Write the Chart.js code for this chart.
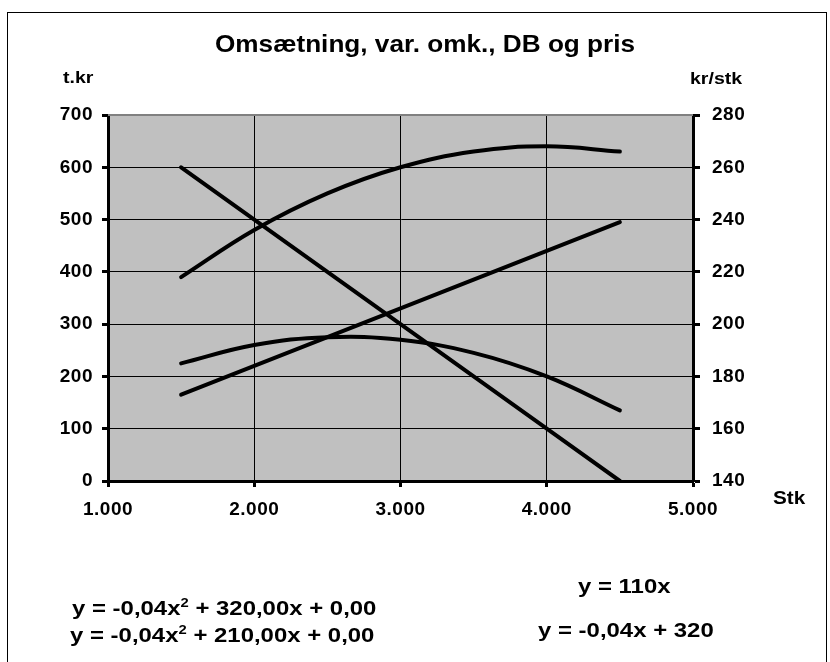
<!DOCTYPE html>
<html>
<head>
<meta charset="utf-8">
<script src="https://cdn.jsdelivr.net/npm/chart.js@4/dist/chart.umd.min.js"></script>
<style>
  html, body { margin: 0; padding: 0; background: #fff; overflow: hidden; }
  #wrap { position: relative; width: 830px; height: 662px; overflow: hidden; font-family: "Liberation Sans", Arial, sans-serif; font-weight: bold; color: #000; }
  #frame { position: absolute; left: 7px; top: 12px; width: 818px; height: 700px; border: 1.5px solid #000; }
  canvas { position: absolute; left: 0; top: 0; }
  .lbl { position: absolute; white-space: nowrap; line-height: 1; transform-origin: 0 0; }
  .title { font-size: 24px; left: 215px; top: 32px; transform: scaleX(1.09); }
  .ax { font-size: 17px; transform: scaleX(1.15); }
  .eq { font-size: 21px; transform: scaleX(1.14); }
  .eq sup { font-size: 13px; vertical-align: 8px; line-height: 0; }
</style>
</head>
<body>
<div id="wrap">
  <div id="frame"></div>
  <canvas id="chart" width="830" height="662"></canvas>
  <div class="lbl title">Omsætning, var. omk., DB og pris</div>
  <div class="lbl ax" style="left:63px; top:69px;">t.kr</div>
  <div class="lbl ax" style="left:690px; top:70px;">kr/stk</div>
  <div class="lbl ax" style="left:773px; top:489px; font-size:18px;">Stk</div>
  <div class="lbl eq" style="left:72px; top:597px;">y = -0,04x<sup>2</sup> + 320,00x + 0,00</div>
  <div class="lbl eq" style="left:70px; top:624px;">y = -0,04x<sup>2</sup> + 210,00x + 0,00</div>
  <div class="lbl eq" style="left:578px; top:575px;">y = 110x</div>
  <div class="lbl eq" style="left:538px; top:619px;">y = -0,04x + 320</div>
</div>
<script>
// styk (x)
var stk = [1500, 2000, 2500, 3000, 3500, 4000, 4500];
// t.kr (venstre akse)
var omsaetning = [390, 480, 550, 600, 630, 640, 630];
var db = [225, 260, 275, 270, 245, 200, 135];
var varOmk = [165, 220, 275, 330, 385, 440, 495];
// kr/stk (hoejre akse)
var pris = [260, 240, 220, 200, 180, 160, 140];

var xTicks = [1000, 2000, 3000, 4000, 5000];
var leftTicks = [0, 100, 200, 300, 400, 500, 600, 700];
var rightTicks = [140, 160, 180, 200, 220, 240, 260, 280];

function pts(ys) {
    return stk.map(function (x, i) { return { x: x, y: ys[i] }; });
}

function tusind(v) {
    return String(v).replace(/\B(?=(\d{3})+(?!\d))/g, '.');
}

var plotBg = {
    id: 'plotBg',
    beforeDraw: function (chart) {
        var a = chart.chartArea, ctx = chart.ctx;
        ctx.save();
        ctx.fillStyle = '#c0c0c0';
        ctx.fillRect(a.left, a.top, a.right - a.left, a.bottom - a.top);
        ctx.restore();
        // lidt bredere tal, som i originalen
        ctx.letterSpacing = '0.5px';
    },
    afterDatasetsDraw: function (chart) {
        var a = chart.chartArea, ctx = chart.ctx;
        ctx.save();
        ctx.strokeStyle = '#808080';
        ctx.lineWidth = 2;
        ctx.beginPath();
        ctx.moveTo(a.left, a.top);
        ctx.lineTo(a.right, a.top);
        ctx.stroke();
        ctx.restore();
    }
};

var line = function (data, axis, tension) {
    return {
        data: pts(data),
        yAxisID: axis,
        borderColor: '#000',
        borderWidth: 4,
        borderCapStyle: 'round',
        pointRadius: 0,
        showLine: true,
        tension: tension,
        fill: false
    };
};

var font = { family: '"Liberation Sans", Arial, sans-serif', size: 19, weight: 'bold' };

new Chart(document.getElementById('chart'), {
    type: 'scatter',
    data: {
        datasets: [
            line(omsaetning, 'y', 0.4),
            line(db, 'y', 0.4),
            line(varOmk, 'y', 0),
            line(pris, 'y1', 0)
        ]
    },
    options: {
        responsive: false,
        animation: false,
        layout: { padding: { top: 115, left: 0, right: 0, bottom: 0 } },
        plugins: { legend: { display: false }, tooltip: { enabled: false }, title: { display: false } },
        scales: {
            x: {
                type: 'linear',
                min: 1000, max: 5000,
                afterBuildTicks: function (s) { s.ticks = xTicks.map(function (v) { return { value: v }; }); },
                afterFit: function (s) { s.height = 181; },
                ticks: { color: '#000', font: font, padding: 11, callback: function (v) { return tusind(v); } },
                grid: { color: '#000', lineWidth: 1, tickLength: 6, tickWidth: 3, tickColor: '#000' },
                border: { color: '#000', width: 3 }
            },
            y: {
                position: 'left',
                min: 0, max: 700,
                afterBuildTicks: function (s) { s.ticks = leftTicks.map(function (v) { return { value: v }; }); },
                afterFit: function (s) { s.width = 108; },
                ticks: { color: '#000', font: font, padding: 9 },
                grid: {
                    color: function (c) { return c.tick && c.tick.value === 700 ? '#808080' : '#000'; },
                    lineWidth: 1, tickLength: 6, tickWidth: 3, tickColor: '#000'
                },
                border: { color: '#000', width: 3 }
            },
            y1: {
                position: 'right',
                min: 140, max: 280,
                afterBuildTicks: function (s) { s.ticks = rightTicks.map(function (v) { return { value: v }; }); },
                afterFit: function (s) { s.width = 137; },
                ticks: { color: '#000', font: font, padding: 12 },
                grid: { drawOnChartArea: false, tickLength: 7, tickWidth: 3, tickColor: '#000' },
                border: { color: '#000', width: 3 }
            }
        }
    },
    plugins: [plotBg]
});
</script>
</body>
</html>
